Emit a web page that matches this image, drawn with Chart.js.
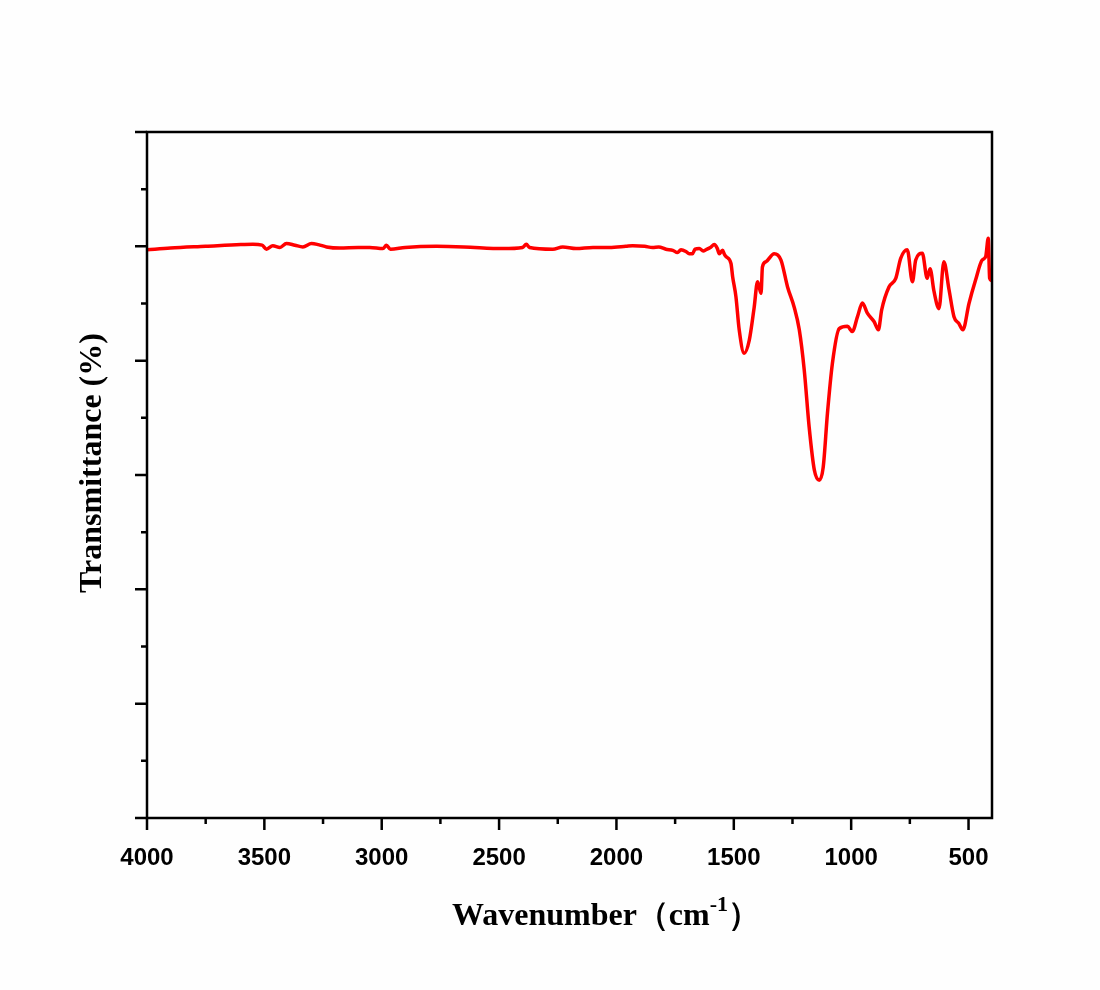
<!DOCTYPE html>
<html lang="en">
  <head>
    <meta charset="UTF-8" />
    <title>FTIR Spectrum</title>
    <script src="https://cdn.jsdelivr.net/npm/chart.js"></script>
    <style>
      body {
        margin: 0;
        padding: 0;
        background-color: #fefefe;
      }
      #wrap {
        width: 1100px;
        height: 990px;
      }
    </style>
  </head>
  <body>
    <div id="wrap"><canvas id="irChart" width="1100" height="990"></canvas></div>
    <script>
      // spectrum (wavenumber in cm-1, transmittance)
      const wavenumbers = [
        4000, 3900, 3750, 3600, 3549, 3510, 3491, 3464, 3434, 3406, 3370, 3336,
        3299, 3270, 3235, 3179, 3100, 3051, 2995, 2980, 2963, 2900, 2767, 2650,
        2484, 2400, 2384, 2370, 2271, 2229, 2172, 2100, 2030, 1960, 1931, 1880,
        1846, 1820, 1789, 1760, 1740, 1725, 1704, 1690, 1676, 1665, 1647, 1630,
        1619, 1600, 1583, 1570, 1562, 1548, 1540, 1533, 1512, 1505, 1491, 1477,
        1456, 1434, 1413, 1399, 1392, 1384, 1378, 1363, 1328, 1299, 1271, 1243,
        1221, 1200, 1179, 1157, 1136, 1119, 1101, 1080, 1051, 1016, 995, 973,
        952, 931, 902, 884, 870, 839, 810, 789, 761, 739, 725, 697, 676, 664,
        647, 626, 605, 583, 562, 541, 524, 498, 470, 442, 427, 416, 410, 402,
      ];
      const transmittance = [
        99.4, 99.7, 100.0, 100.3, 100.35, 100.2, 99.5, 100.1, 99.8, 100.5, 100.2, 99.9,
        100.5, 100.3, 99.9, 99.7, 99.8, 99.8, 99.6, 100.2, 99.5, 99.8, 100.0, 99.9,
        99.6, 99.8, 100.35, 99.8, 99.5, 99.9, 99.6, 99.8, 99.8, 100.0, 100.1, 100.0,
        99.8, 99.9, 99.5, 99.3, 98.9, 99.4, 99.1, 98.7, 98.7, 99.5, 99.6, 99.2,
        99.4, 99.8, 100.3, 99.6, 98.7, 99.3, 98.6, 98.2, 97.0, 94.7, 91.2, 85.4,
        81.3, 83.6, 89.4, 93.8, 92.9, 91.8, 96.4, 97.3, 98.7, 97.6, 92.9, 89.4,
        85.4, 78.4, 68.4, 60.9, 59.1, 61.4, 70.8, 79.5, 85.6, 86.0, 85.1, 87.7,
        90.1, 88.3, 86.8, 85.4, 88.9, 92.9, 94.4, 97.9, 99.4, 93.8, 97.6, 98.8, 94.4, 96.1,
        92.1, 89.1, 97.3, 92.4, 87.7, 86.5, 85.4, 90.0, 94.1, 97.6, 98.2, 101.4, 94.4, 94.0,
      ];

      // axis ranges and tick steps
      const xRange = [400, 4000];
      const xMajorStep = 500;
      const xMinorStep = 250;
      const yRange = [0, 120];
      const yMajorStep = 20;
      const yMinorStep = 10;

      const xTitle = "Wavenumber（cm";
      const xTitleSup = "-1";
      const yTitle = "Transmittance (%)";

      const points = wavenumbers.map((w, i) => ({ x: w, y: transmittance[i] }));

      // frame, outward ticks and axis titles
      const framePlugin = {
        id: "frame",
        afterDraw(chart) {
          const ctx = chart.ctx;
          const area = chart.chartArea;
          const xs = chart.scales.x;
          const ys = chart.scales.y;
          ctx.save();
          ctx.strokeStyle = "#000";
          ctx.lineWidth = 2.5;
          ctx.strokeRect(area.left, area.top, area.right - area.left, area.bottom - area.top);

          ctx.beginPath();
          for (let v = 500; v <= xRange[1]; v += xMinorStep) {
            const px = xs.getPixelForValue(v);
            const len = v % xMajorStep === 0 ? 12 : 6;
            ctx.moveTo(px, area.bottom);
            ctx.lineTo(px, area.bottom + len);
          }
          for (let v = yRange[0]; v <= yRange[1]; v += yMinorStep) {
            const py = ys.getPixelForValue(v);
            const len = v % yMajorStep === 0 ? 12 : 6;
            ctx.moveTo(area.left, py);
            ctx.lineTo(area.left - len, py);
          }
          ctx.stroke();

          // x title with superscript
          ctx.fillStyle = "#000";
          ctx.textBaseline = "alphabetic";
          const big = "bold 32px 'Liberation Serif', 'Times New Roman', serif";
          const small = "bold 22px 'Liberation Serif', 'Times New Roman', serif";
          ctx.font = big;
          const w1 = ctx.measureText(xTitle).width;
          ctx.font = small;
          const w2 = ctx.measureText(xTitleSup).width;
          ctx.font = big;
          const w3 = ctx.measureText("）").width;
          let x0 = 606 - (w1 + w2 + w3) / 2;
          const base = 925;
          ctx.textAlign = "left";
          ctx.fillText(xTitle, x0, base);
          ctx.font = small;
          ctx.fillText(xTitleSup, x0 + w1, base - 14);
          ctx.font = big;
          ctx.fillText("）", x0 + w1 + w2, base);

          // y title, rotated
          ctx.translate(93, 463);
          ctx.rotate(-Math.PI / 2);
          ctx.textAlign = "center";
          ctx.textBaseline = "middle";
          ctx.font = big;
          ctx.fillText(yTitle, 0, 0);
          ctx.restore();
        },
      };

      const ctx = document.getElementById("irChart").getContext("2d");
      const irChart = new Chart(ctx, {
        type: "scatter",
        data: {
          datasets: [
            {
              data: points,
              showLine: true,
              borderColor: "#ff0000",
              borderWidth: 3.5,
              borderJoinStyle: "round",
              pointRadius: 0,
              cubicInterpolationMode: "monotone",
              fill: false,
            },
          ],
        },
        options: {
          responsive: false,
          animation: false,
          layout: {
            padding: { top: 132, right: 108, left: 0, bottom: 112 },
          },
          plugins: {
            legend: { display: false },
            tooltip: { enabled: false },
          },
          scales: {
            x: {
              type: "linear",
              reverse: true,
              min: xRange[0],
              max: xRange[1],
              afterBuildTicks(scale) {
                const ticks = [];
                for (let v = 500; v <= xRange[1]; v += xMajorStep) ticks.push({ value: v });
                scale.ticks = ticks;
              },
              afterFit(scale) {
                scale.height = 60;
              },
              grid: { display: false },
              border: { display: false },
              ticks: {
                color: "#000",
                padding: 18,
                maxRotation: 0,
                callback: (v) => String(v),
                font: { family: "'Liberation Sans', Arial, sans-serif", size: 24, weight: "bold" },
              },
            },
            y: {
              min: yRange[0],
              max: yRange[1],
              afterFit(scale) {
                scale.width = 147;
              },
              grid: { display: false },
              border: { display: false },
              ticks: { display: false, stepSize: yMajorStep },
            },
          },
        },
        plugins: [framePlugin],
      });
    </script>
  </body>
</html>
